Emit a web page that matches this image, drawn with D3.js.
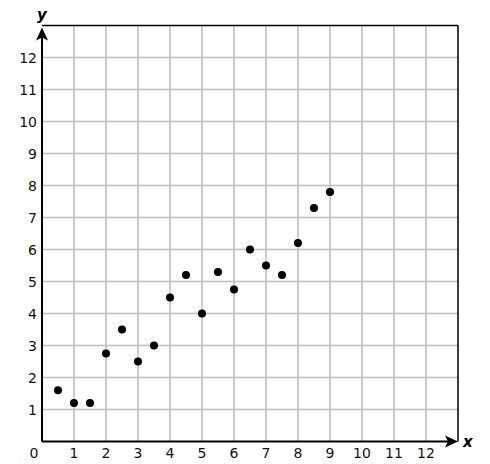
<!DOCTYPE html>
<html><head><meta charset="utf-8">
<script src="https://cdn.jsdelivr.net/npm/d3@7"></script>
<style>body{margin:0;background:#fff}svg{display:block}</style>
</head><body>
<script>
const xs = [0.5, 1, 1.5, 2, 2.5, 3, 3.5, 4, 4.5, 5, 5.5, 6, 6.5, 7, 7.5, 8, 8.5, 9];
const ys = [1.6, 1.2, 1.2, 2.75, 3.5, 2.5, 3.0, 4.5, 5.2, 4.0, 5.3, 4.75, 6.0, 5.5, 5.2, 6.2, 7.3, 7.8];
const xTicks = [1,2,3,4,5,6,7,8,9,10,11,12];
const yTicks = [1,2,3,4,5,6,7,8,9,10,11,12];
const gridVals = [1,2,3,4,5,6,7,8,9,10,11,12];

const W = 490, H = 464;
const svg = d3.select("body").append("svg").attr("width", W).attr("height", H);
const x = d3.scaleLinear().domain([0, 13]).range([42, 458]);
const y = d3.scaleLinear().domain([0, 13]).range([441.5, 25.5]);
const font = "DejaVu Sans, Verdana, sans-serif";

// grid
const g = svg.append("g");
g.selectAll(".gx").data(gridVals).join("line")
  .attr("x1", d => x(d)).attr("x2", d => x(d)).attr("y1", y(0)).attr("y2", y(13))
  .attr("stroke", "#bdbdbd").attr("stroke-width", 1.5);
g.selectAll(".gy").data(gridVals).join("line")
  .attr("y1", d => y(d)).attr("y2", d => y(d)).attr("x1", x(0)).attr("x2", x(13))
  .attr("stroke", "#bdbdbd").attr("stroke-width", 1.5);

// border top & right
svg.append("line").attr("x1", x(0)).attr("x2", x(13)).attr("y1", y(13)).attr("y2", y(13))
  .attr("stroke", "#000").attr("stroke-width", 1.5);
svg.append("line").attr("x1", x(13)).attr("x2", x(13)).attr("y1", y(13)).attr("y2", y(0))
  .attr("stroke", "#000").attr("stroke-width", 1.5);

// axes
svg.append("line").attr("x1", x(0)).attr("x2", x(13) - 6).attr("y1", y(0)).attr("y2", y(0))
  .attr("stroke", "#000").attr("stroke-width", 2);
svg.append("line").attr("x1", x(0)).attr("x2", x(0)).attr("y1", y(0)).attr("y2", y(13) + 8)
  .attr("stroke", "#000").attr("stroke-width", 2);

// arrowheads
const tx = x(13), ty = y(0);
svg.append("path").attr("d", `M${tx},${ty} L${tx-13},${ty-6} L${tx-10},${ty} L${tx-13},${ty+6} Z`).attr("fill", "#000");
const ax = x(0), ay = y(13) + 2;
svg.append("path").attr("d", `M${ax},${ay} L${ax-6},${ay+13} L${ax},${ay+10} L${ax+6},${ay+13} Z`).attr("fill", "#000");

// tick labels
svg.selectAll(".xt").data(xTicks).join("text")
  .attr("x", d => x(d)).attr("y", y(0) + 16).attr("text-anchor", "middle")
  .attr("font-family", font).attr("font-size", 14).attr("fill", "#111").text(d => d);
svg.append("text").attr("x", 34).attr("y", y(0) + 16).attr("text-anchor", "middle")
  .attr("font-family", font).attr("font-size", 14).attr("fill", "#111").text("0");
svg.selectAll(".yt").data(yTicks).join("text")
  .attr("x", 37).attr("y", d => y(d) + 5).attr("text-anchor", "end")
  .attr("font-family", font).attr("font-size", 14).attr("fill", "#111").text(d => d);

// axis labels
svg.append("text").attr("x", 463).attr("y", y(0) + 5).attr("font-family", font)
  .attr("font-size", 15).attr("font-style", "italic").attr("font-weight", "bold").text("x");
svg.append("text").attr("x", x(0)).attr("y", 20).attr("text-anchor", "middle").attr("font-family", font)
  .attr("font-size", 15).attr("font-style", "italic").attr("font-weight", "bold").text("y");

// points
svg.selectAll(".pt").data(xs.map((d, i) => [d, ys[i]])).join("circle")
  .attr("cx", d => x(d[0])).attr("cy", d => y(d[1])).attr("r", 4).attr("fill", "#000");
</script>
</body></html>
